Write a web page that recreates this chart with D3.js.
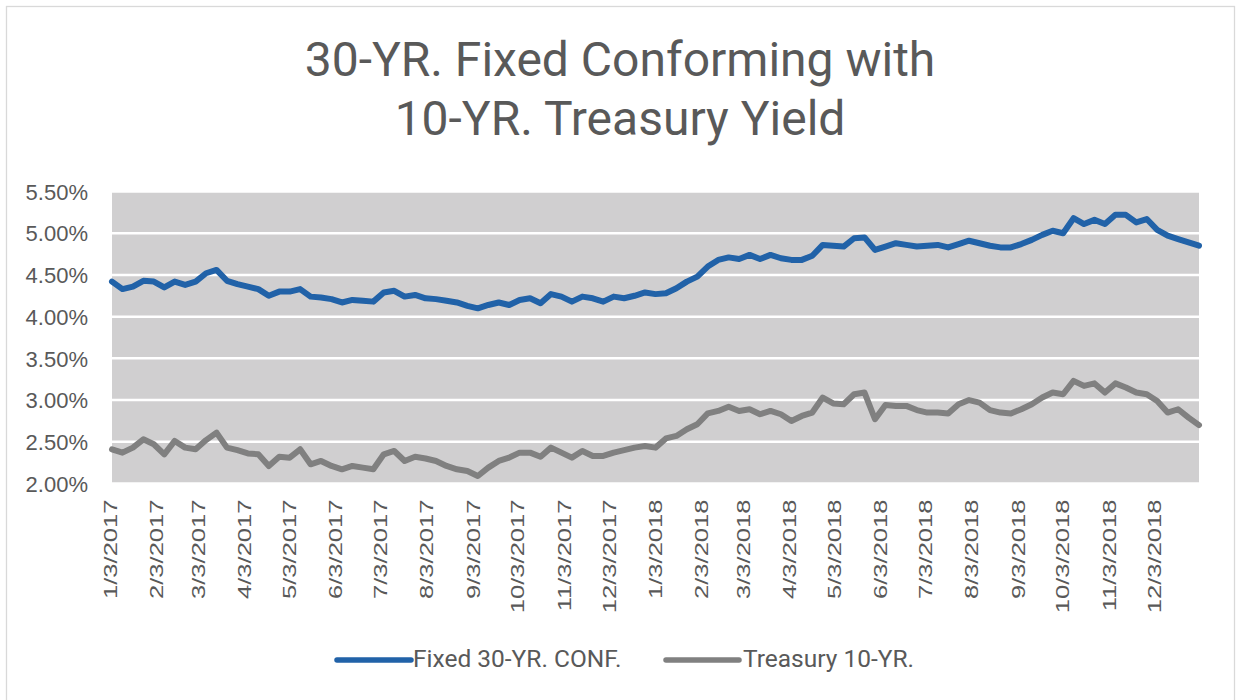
<!DOCTYPE html>
<html>
<head>
<meta charset="utf-8">
<script src="https://cdn.jsdelivr.net/npm/d3@7"></script>
<style>
  html, body { margin: 0; padding: 0; background: #ffffff; }
  svg { display: block; }
</style>
</head>
<body>
<svg id="chart" width="1236" height="700"></svg>
<script>
// ---------------- DATA ----------------
const titleLines = ["30-YR. Fixed Conforming with", "10-YR. Treasury Yield"];
const seriesNames = ["Fixed 30-YR. CONF.", "Treasury 10-YR."];
const seriesColors = ["#2162a8", "#808080"];

const dates = [
  "2017-01-03","2017-01-10","2017-01-17","2017-01-24","2017-01-31","2017-02-07","2017-02-14","2017-02-21","2017-02-28",
  "2017-03-07","2017-03-14","2017-03-21","2017-03-28","2017-04-04","2017-04-11","2017-04-18","2017-04-25",
  "2017-05-02","2017-05-09","2017-05-16","2017-05-23","2017-05-30","2017-06-06","2017-06-13","2017-06-20","2017-06-27",
  "2017-07-04","2017-07-11","2017-07-18","2017-07-25","2017-08-01","2017-08-08","2017-08-15","2017-08-22","2017-08-29",
  "2017-09-05","2017-09-12","2017-09-19","2017-09-26","2017-10-03","2017-10-10","2017-10-17","2017-10-24","2017-10-31",
  "2017-11-07","2017-11-14","2017-11-21","2017-11-28","2017-12-05","2017-12-12","2017-12-19","2017-12-26",
  "2018-01-02","2018-01-09","2018-01-16","2018-01-23","2018-01-30","2018-02-06","2018-02-13","2018-02-20","2018-02-27",
  "2018-03-06","2018-03-13","2018-03-20","2018-03-27","2018-04-03","2018-04-10","2018-04-17","2018-04-24",
  "2018-05-01","2018-05-08","2018-05-15","2018-05-22","2018-05-29","2018-06-05","2018-06-12","2018-06-19","2018-06-26",
  "2018-07-03","2018-07-10","2018-07-17","2018-07-24","2018-07-31","2018-08-07","2018-08-14","2018-08-21","2018-08-28",
  "2018-09-04","2018-09-11","2018-09-18","2018-09-25","2018-10-02","2018-10-09","2018-10-16","2018-10-23","2018-10-30",
  "2018-11-06","2018-11-13","2018-11-20","2018-11-27","2018-12-04","2018-12-11","2018-12-18","2018-12-25","2019-01-01"
];

const fixed30 = [
  4.42,4.33,4.36,4.43,4.42,4.35,4.42,4.38,4.42,
  4.52,4.56,4.43,4.39,4.36,4.33,4.25,4.30,
  4.30,4.33,4.24,4.23,4.21,4.17,4.20,4.19,4.18,
  4.29,4.31,4.24,4.26,4.22,4.21,4.19,4.17,4.13,
  4.10,4.14,4.17,4.14,4.20,4.22,4.16,4.27,4.24,
  4.18,4.24,4.22,4.18,4.24,4.22,4.25,4.29,
  4.27,4.28,4.34,4.42,4.48,4.60,4.68,4.71,4.69,
  4.74,4.69,4.74,4.70,4.68,4.68,4.73,4.86,
  4.85,4.84,4.94,4.95,4.80,4.84,4.88,4.86,4.84,
  4.85,4.86,4.83,4.87,4.91,4.88,4.85,4.83,4.83,
  4.87,4.92,4.98,5.03,5.00,5.18,5.11,5.16,5.11,
  5.22,5.22,5.13,5.17,5.04,4.97,4.93,4.89,4.85
];

const treasury10 = [
  2.41,2.37,2.43,2.53,2.47,2.35,2.51,2.43,2.41,
  2.52,2.61,2.43,2.40,2.36,2.35,2.21,2.32,
  2.31,2.41,2.23,2.27,2.21,2.17,2.21,2.19,2.17,
  2.35,2.39,2.27,2.32,2.30,2.27,2.21,2.17,2.15,
  2.09,2.19,2.27,2.31,2.37,2.37,2.32,2.43,2.37,
  2.31,2.39,2.33,2.33,2.37,2.40,2.43,2.45,
  2.43,2.54,2.57,2.65,2.71,2.84,2.87,2.92,2.87,
  2.89,2.83,2.87,2.83,2.75,2.81,2.85,3.03,
  2.96,2.95,3.07,3.09,2.77,2.94,2.93,2.93,2.88,
  2.85,2.85,2.84,2.95,3.00,2.97,2.88,2.85,2.84,
  2.89,2.95,3.03,3.09,3.07,3.23,3.17,3.20,3.09,
  3.20,3.15,3.09,3.07,2.99,2.85,2.89,2.79,2.70
];

const yTicks = [2.0, 2.5, 3.0, 3.5, 4.0, 4.5, 5.0, 5.5];
const xTickLabels = [
  "1/3/2017","2/3/2017","3/3/2017","4/3/2017","5/3/2017","6/3/2017","7/3/2017","8/3/2017",
  "9/3/2017","10/3/2017","11/3/2017","12/3/2017","1/3/2018","2/3/2018","3/3/2018","4/3/2018",
  "5/3/2018","6/3/2018","7/3/2018","8/3/2018","9/3/2018","10/3/2018","11/3/2018","12/3/2018"
];

// ---------------- LAYOUT ----------------
const svg = d3.select("#chart");
const plot = { left: 112, right: 1199, top: 191.5, bottom: 483.5 };

const parseISO = d3.timeParse("%Y-%m-%d");
const parseLabel = d3.timeParse("%-m/%-d/%Y");
const dateObjs = dates.map(parseISO);

const x = d3.scaleTime()
  .domain([dateObjs[0], dateObjs[dateObjs.length - 1]])
  .range([plot.left, plot.right]);
const y = d3.scaleLinear()
  .domain([2.0, 5.5])
  .range([plot.bottom, plot.top]);

// outer chart border
svg.append("rect")
  .attr("x", 6.5).attr("y", 6.5)
  .attr("width", 1228).attr("height", 720)
  .attr("fill", "#ffffff")
  .attr("stroke", "#d9d9d9").attr("stroke-width", 1.3);

// title
const title = svg.append("text")
  .attr("text-anchor", "middle")
  .attr("font-family", "Roboto, 'Noto Sans', sans-serif")
  .attr("font-size", 48)
  .attr("fill", "#595959");
title.selectAll("tspan").data(titleLines).join("tspan")
  .attr("x", 620)
  .attr("y", (d, i) => 76 + i * 59)
  .text(d => d);

// plot background
svg.append("rect")
  .attr("x", plot.left).attr("y", plot.top)
  .attr("width", plot.right - plot.left).attr("height", plot.bottom - plot.top)
  .attr("fill", "#d0cfd0");

// gridlines
svg.append("g").selectAll("line").data(yTicks).join("line")
  .attr("x1", plot.left).attr("x2", plot.right)
  .attr("y1", d => y(d)).attr("y2", d => y(d))
  .attr("stroke", "#ffffff").attr("stroke-width", 2.5);

// y axis labels
const yAxis = d3.axisLeft(y).tickValues(yTicks).tickFormat(d => d.toFixed(2) + "%").tickSize(0).tickPadding(0);
const gy = svg.append("g").attr("transform", "translate(88,0)").call(yAxis);
gy.select(".domain").remove();
gy.selectAll("text")
  .attr("font-family", "'Liberation Sans', Arial, sans-serif")
  .attr("font-size", 22)
  .attr("fill", "#595959")
  .attr("dy", "0.35em");

// x axis labels
const xTickDates = xTickLabels.map(parseLabel);
const xAxis = d3.axisBottom(x).tickValues(xTickDates).tickFormat((d, i) => xTickLabels[i]).tickSize(0);
const gx = svg.append("g").attr("transform", `translate(0,${plot.bottom})`).call(xAxis);
gx.select(".domain").remove();
gx.selectAll(".tick text")
  .attr("font-family", "'Liberation Sans', Arial, sans-serif")
  .attr("font-size", 18)
  .attr("fill", "#595959")
  .attr("text-anchor", "end")
  .attr("x", 0).attr("y", 0)
  .attr("dy", "0.35em")
  .attr("transform", "translate(-2,16) rotate(-90) scale(1.42,1)");

// lines
const series = [fixed30, treasury10];
const line = d3.line()
  .x((d, i) => x(dateObjs[i]))
  .y(d => y(d));
svg.append("g").selectAll("path").data(series).join("path")
  .attr("d", d => line(d))
  .attr("fill", "none")
  .attr("stroke", (d, i) => seriesColors[i])
  .attr("stroke-width", 6)
  .attr("stroke-linejoin", "round")
  .attr("stroke-linecap", "round");

// legend
const legendItems = [
  { x1: 337, x2: 411, tx: 413 },
  { x1: 666, x2: 739, tx: 743 }
];
const lg = svg.append("g");
legendItems.forEach((it, i) => {
  lg.append("line")
    .attr("x1", it.x1).attr("x2", it.x2)
    .attr("y1", 660).attr("y2", 660)
    .attr("stroke", seriesColors[i]).attr("stroke-width", 5.5)
    .attr("stroke-linecap", "round");
  lg.append("text")
    .attr("x", it.tx).attr("y", 667)
    .attr("font-family", "Roboto, 'Noto Sans', sans-serif")
    .attr("font-size", 24.5)
    .attr("fill", "#595959")
    .text(seriesNames[i]);
});
</script>
</body>
</html>
